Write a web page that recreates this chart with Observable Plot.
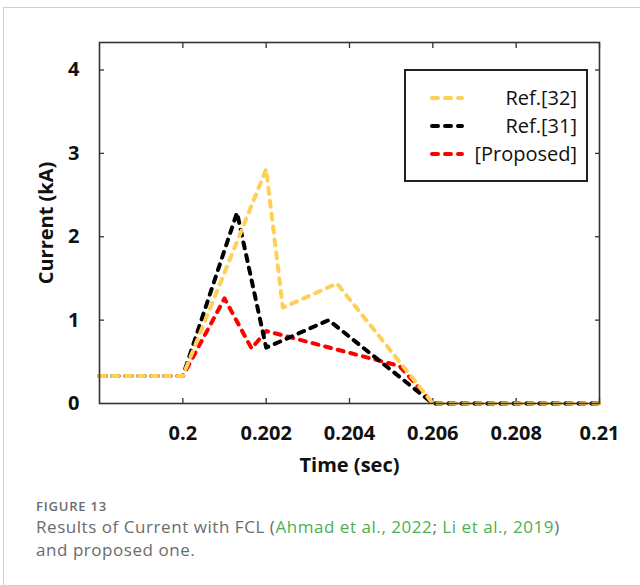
<!DOCTYPE html>
<html>
<head>
<meta charset="utf-8">
<script src="https://cdn.jsdelivr.net/npm/d3@7"></script>
<script src="https://cdn.jsdelivr.net/npm/@observablehq/plot@0.6"></script>
<style>
  html, body { margin: 0; padding: 0; background: #fff; }
  body { width: 640px; height: 585px; position: relative; overflow: hidden; font-family: "Open Sans", sans-serif; }
  #border { position: absolute; left: 3px; top: 7px; width: 700px; height: 700px; border-left: 1.5px solid #cfcfcf; border-top: 1.5px solid #cfcfcf; }
  #chart { position: absolute; left: 0; top: 0; }
  #legend { position: absolute; left: 404px; top: 69px; }
  #caption { position: absolute; left: 36px; top: 498px; width: 600px; color: #6b6b6b; }
  #caption .fig { font-size: 13px; font-weight: 600; letter-spacing: 0.8px; line-height: 16px; white-space: nowrap; }
  #caption .txt { font-size: 17px; letter-spacing: 0.55px; line-height: 23px; white-space: nowrap; }
  #caption .l1 { margin-top: 1px; }
  #caption .g { color: #4caf50; }
</style>
</head>
<body>
<div id="border"></div>
<div id="chart"></div>
<div id="legend"></div>
<div id="caption">
  <div class="fig">FIGURE 13</div>
  <div class="txt l1"><span>Results of Current with FCL (</span><span class="g">Ahmad et al., 2022</span><span>; </span><span class="g">Li et al., 2019</span><span>)</span></div>
  <div class="txt"><span>and proposed one.</span></div>
</div>
<script>
// ---- data ----
const seriesNames = ["Ref.[32]", "Ref.[31]", "[Proposed]"];
const seriesColors = ["#ffd055", "#000000", "#ff0000"];

const ref32Time = [0.198, 0.2, 0.202, 0.2024, 0.2037, 0.206, 0.21];
const ref32Current = [0.33, 0.33, 2.81, 1.15, 1.44, 0, 0];

const ref31Time = [0.198, 0.2, 0.2013, 0.202, 0.2035, 0.206, 0.21];
const ref31Current = [0.33, 0.33, 2.29, 0.67, 1.0, 0, 0];

const propTime = [0.198, 0.2, 0.201, 0.20165, 0.202, 0.2052, 0.206, 0.21];
const propCurrent = [0.33, 0.33, 1.26, 0.66, 0.87, 0.45, 0, 0];

const xTicks = [0.2, 0.202, 0.204, 0.206, 0.208, 0.21];
const xTickLabels = ["0.2", "0.202", "0.204", "0.206", "0.208", "0.21"];
const yTicks = [0, 1, 2, 3, 4];
const yTickLabels = ["0", "1", "2", "3", "4"];

// ---- build ----
const toRows = (ts, vs) => ts.map((t, i) => ({t, v: vs[i]}));
const ref32 = toRows(ref32Time, ref32Current);
const ref31 = toRows(ref31Time, ref31Current);
const prop = toRows(propTime, propCurrent);

const xLab = new Map(xTicks.map((d, i) => [d, xTickLabels[i]]));
const yLab = new Map(yTicks.map((d, i) => [d, yTickLabels[i]]));

const frameColor = "#333";
const dash = "6,7";
const lw = 4;

const chart = Plot.plot({
  width: 640,
  height: 480,
  marginLeft: 99,
  marginRight: 41,
  marginTop: 42,
  marginBottom: 77,
  x: {domain: [0.198, 0.21]},
  y: {domain: [0, 4.33]},
  style: {fontFamily: "'Open Sans', sans-serif", fontSize: "20px", color: "#111", background: "transparent", overflow: "visible"},
  marks: [
    Plot.axisX({ticks: xTicks, tickSize: -5, fill: "none", stroke: frameColor, strokeWidth: 1.3}),
    Plot.axisX({anchor: "top", ticks: xTicks, tickSize: -5, fill: "none", stroke: frameColor, strokeWidth: 1.3}),
    Plot.axisY({ticks: yTicks.slice(1), tickSize: -5, fill: "none", stroke: frameColor, strokeWidth: 1.3}),
    Plot.axisY({anchor: "right", ticks: yTicks.slice(1), tickSize: -5, fill: "none", stroke: frameColor, strokeWidth: 1.3}),
    Plot.axisX({ticks: xTicks, tickSize: 0, tickPadding: 22, tickFormat: d => xLab.get(d), fontWeight: "bold",
      label: "Time (sec)", labelAnchor: "center", labelOffset: 68, labelArrow: "none"}),
    Plot.axisY({ticks: yTicks, tickSize: 0, tickPadding: 20, tickFormat: d => yLab.get(d), fontWeight: "bold",
      label: "Current (kA)", labelAnchor: "center", labelOffset: 61, labelArrow: "none"}),
    Plot.line(prop, {x: "t", y: "v", stroke: seriesColors[2], strokeWidth: lw, strokeDasharray: dash, strokeLinecap: "round", strokeLinejoin: "round"}),
    Plot.line(ref31, {x: "t", y: "v", stroke: seriesColors[1], strokeWidth: lw, strokeDasharray: dash, strokeLinecap: "round", strokeLinejoin: "round"}),
    Plot.line(ref32, {x: "t", y: "v", stroke: seriesColors[0], strokeWidth: lw, strokeDasharray: dash, strokeLinecap: "round", strokeLinejoin: "round"}),
    Plot.frame({stroke: frameColor, strokeWidth: 1.6})
  ]
});
document.getElementById("chart").appendChild(chart);

// ---- legend ----
const lg = d3.select("#legend").append("svg").attr("width", 184).attr("height", 113)
  .style("font-family", "'Open Sans', sans-serif").style("overflow", "visible");
lg.append("rect").attr("x", 1).attr("y", 1).attr("width", 182).attr("height", 111)
  .attr("fill", "#fff").attr("stroke", "#222").attr("stroke-width", 2);
seriesNames.forEach((name, i) => {
  const cy = 29 + i * 28;
  lg.append("line").attr("x1", 28).attr("x2", 58).attr("y1", cy).attr("y2", cy)
    .attr("stroke", seriesColors[i]).attr("stroke-width", lw).attr("stroke-dasharray", dash).attr("stroke-linecap", "round");
  lg.append("text").attr("x", 173).attr("y", cy).attr("dy", "0.35em").attr("text-anchor", "end")
    .attr("font-size", 20).attr("fill", "#111").text(name);
});
</script>
</body>
</html>
